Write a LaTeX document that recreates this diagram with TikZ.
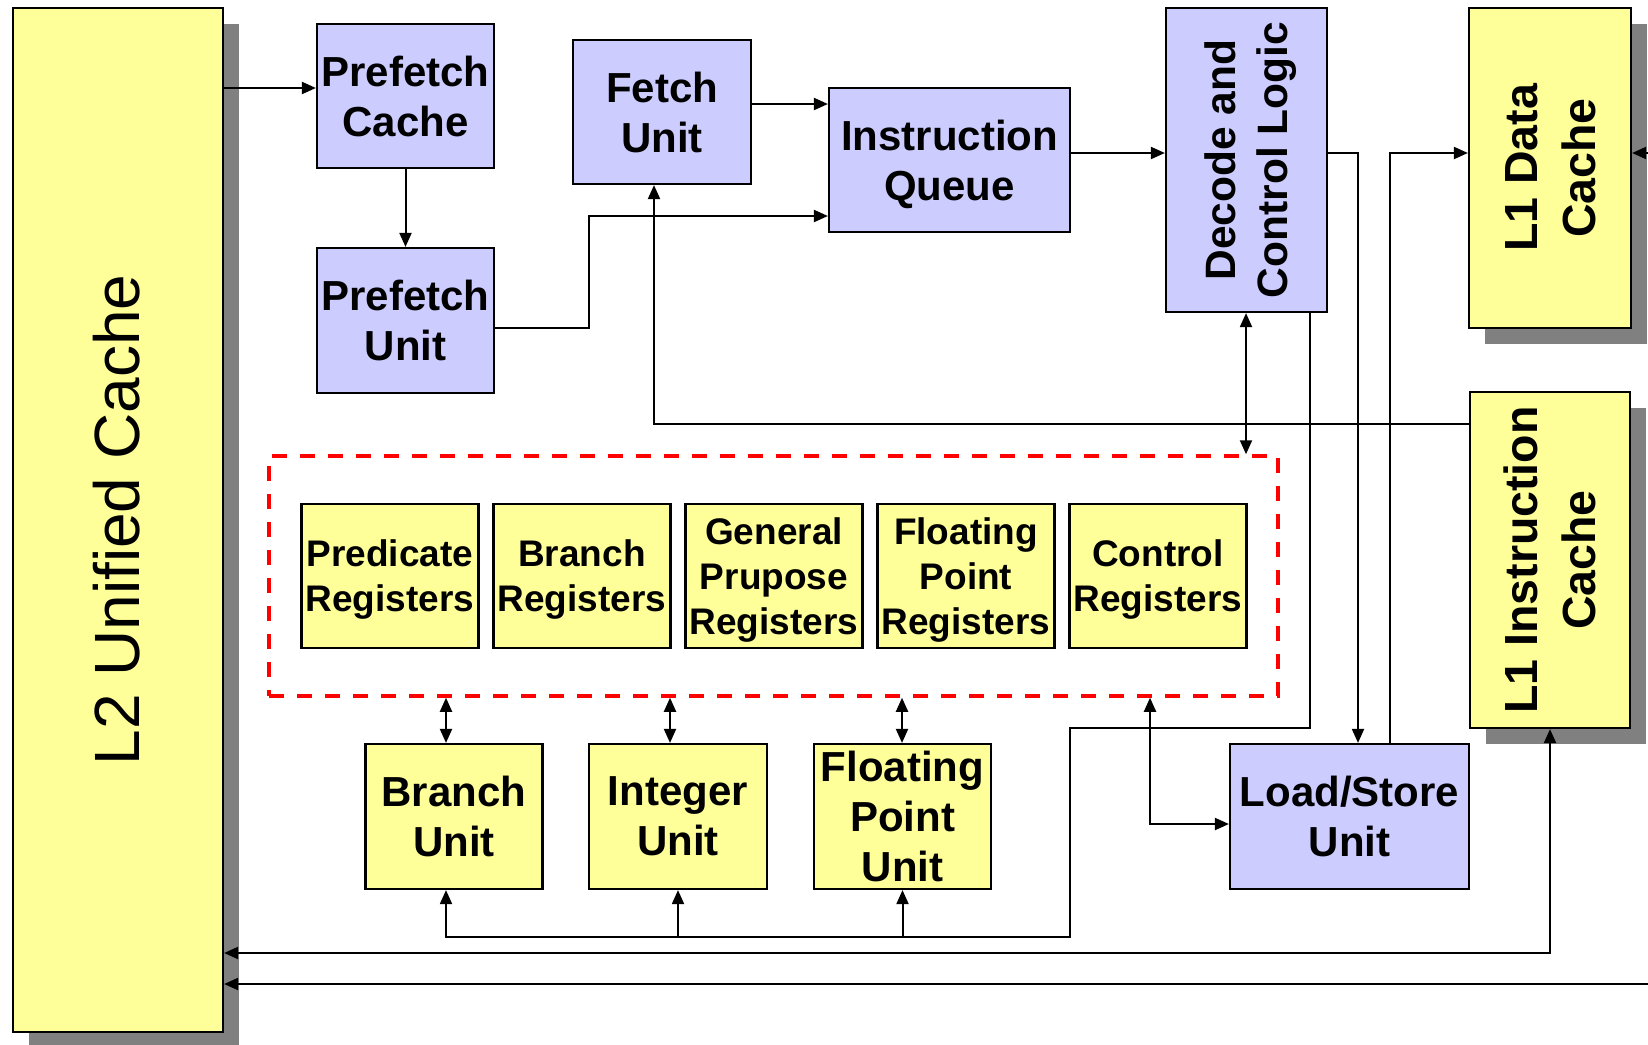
\documentclass[tikz,border=0pt]{standalone}
\usepackage{fontspec}
\setmainfont{Liberation Sans}
\usepackage{graphicx}
\usetikzlibrary{arrows.meta,shadows}
\definecolor{unitblue}{HTML}{CCCCFF}
\definecolor{regyellow}{HTML}{FFFF99}
\newcommand{\vtext}[1]{\rotatebox{90}{\raisebox{0pt}[\height][\dimexpr\depth-0.22em\relax]{\begin{tabular}{@{}c@{}}#1\end{tabular}}}}
\tikzset{
  unitbox/.style={
    draw,
    line width=2.2pt,
    fill=unitblue,
    inner sep=0pt,
    align=center,
    minimum width=177pt,
    minimum height=144pt,
    font={\fontsize{42}{50}\selectfont\bfseries}
  },
  execbox/.style={
    unitbox,
    fill=regyellow,
    minimum height=145pt
  },
  regbox/.style={
    unitbox,
    fill=regyellow,
    text depth=-2pt,
    font={\fontsize{37}{45}\selectfont\bfseries}
  },
  cachebox/.style={
    draw,
    line width=2.2pt,
    fill=regyellow,
    inner sep=0pt,
    font={\fontsize{46.5}{58}\selectfont\bfseries},
    drop shadow={shadow xshift=16pt,shadow yshift=-16pt,fill=black!50,opacity=1}
  },
  regframe/.style={
    draw=red,
    line width=3.5pt,
    dash pattern=on 15pt off 13pt,
    minimum width=1009pt,
    minimum height=240pt
  },
  link/.style={line width=2pt},
  arr/.style={link,-{Triangle[length=14pt,width=12pt]}},
  arr2/.style={link,{Triangle[length=14pt,width=12pt]}-{Triangle[length=14pt,width=12pt]}}
}
\begin{document}
\begin{tikzpicture}[x=1pt,y=-1pt]
    \useasboundingbox (0,0) rectangle (1648,1044);
    \node[cachebox,font={\fontsize{64}{70}\selectfont},minimum width=210pt,minimum height=1024pt] (l2) at (118,520) {\vtext{L2 Unified Cache}};
    \node[cachebox,minimum width=162pt,minimum height=320pt] (l1d) at (1550,168) {\vtext{L1 Data\\Cache}};
    \node[cachebox,minimum width=160pt,minimum height=336pt] (l1i) at (1550,560) {\vtext{L1 Instruction\\Cache}};

    \node[unitbox] (pc) at (405.5,96) {Prefetch\\Cache};
    \node[unitbox,minimum height=145pt] (pu) at (405.5,320.5) {Prefetch\\Unit};
    \node[unitbox,minimum width=178pt] (fetch) at (662,112) {Fetch\\Unit};
    \node[unitbox,minimum width=241pt,text depth=-6.5pt] (iq) at (949.5,160) {Instruction\\Queue};
    \node[unitbox,minimum width=161pt,minimum height=304pt,font={\fontsize{42.5}{52}\selectfont\bfseries}] (dec) at (1246.5,160) {\vtext{Decode and\\Control Logic}};

    \node[regframe] (regs) at (773.5,576) {};
    \foreach \n/\lbl [count=\i from 0] in {pr/{Predicate\\Registers},br/{Branch\\Registers},gp/{General\\Prupose\\Registers},fp/{Floating\\Point\\Registers},cr/{Control\\Registers}}{
            \node[regbox] (\n) at ({390+192*\i},576) {\lbl};
        }

    \node[execbox] (bu) at (454,816.5) {Branch\\Unit};
    \node[execbox,minimum width=178pt] (iu) at (678,816.5) {Integer\\Unit};
    \node[execbox] (fpu) at (902.5,816.5) {Floating\\Point\\Unit};
    \node[unitbox,minimum width=239pt,minimum height=145pt] (ls) at (1349.5,816.5) {Load/Store\\Unit};

    \coordinate (memd) at (1648,153);
    \coordinate (meml2) at (1648,984);

    \draw[arr] (l2.east |- 0,88) -- (pc.west |- 0,88);
    \draw[arr] (pc) -- (pu);
    \draw[arr] (pu.east |- 0,328) -- (589,328) |- (iq.west |- 0,216);
    \draw[arr] (fetch.east |- 0,104) -- (iq.west |- 0,104);
    \draw[arr] (iq.east |- 0,153) -- (dec.west |- 0,153);
    \draw[arr] (dec.east |- 0,153) -| (ls.north -| 1358,0);
    \draw[arr] (ls.north -| 1390,0) |- (l1d.west |- 0,153);
    \draw[arr] (memd) -- (l1d.east |- memd);
    \draw[arr] (l1i.west |- 0,424) -| (fetch.south -| 654,0);
    \draw[arr2] (dec.south -| 1246,0) -- (regs.north -| 1246,0);
    \foreach \u/\x in {bu/446,iu/670,fpu/902}{
            \draw[arr2] (regs.south -| \x,0) -- (\u.north -| \x,0);
        }
    \draw[arr2] (regs.south -| 1150,0) |- (ls.west |- 0,824);
    \draw[arr] (dec.south -| 1310,0) |- (1070,728) |- (446,937) -- (bu.south -| 446,0);
    \draw[arr] (iu.south |- 0,937) -- (iu.south);
    \draw[arr] (fpu.south |- 0,937) -- (fpu.south);
    \draw[arr2] (l1i.south) |- (l2.east |- 0,953);
    \draw[arr] (meml2) -- (l2.east |- meml2);
\end{tikzpicture}
\end{document}
